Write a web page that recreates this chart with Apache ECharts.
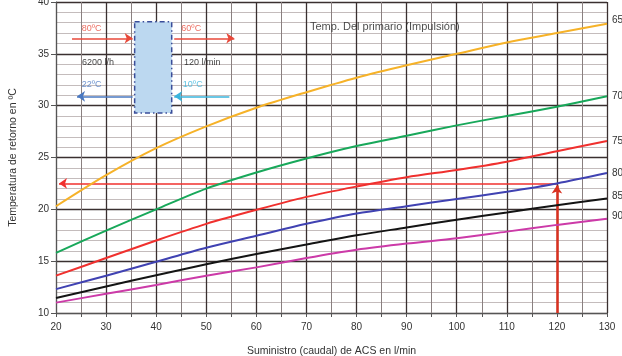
<!DOCTYPE html>
<html><head><meta charset="utf-8">
<script src="https://cdn.jsdelivr.net/npm/echarts@6/dist/echarts.min.js"></script>
<style>html,body{margin:0;padding:0;background:#fff}#c{width:622px;height:356px}</style>
</head><body><div id="c"></div>
<script>
// ---- data ----
const caudal = [20,30,40,50,60,70,80,90,100,110,120,130];
const t65 = [20.3,23.3,25.9,28.0,29.8,31.3,32.7,33.9,35.0,36.1,37.0,37.9];
const t70 = [15.8,17.95,20.0,22.0,23.55,24.9,26.1,27.1,28.1,29.0,29.9,30.9];
const t75 = [13.6,15.3,17.0,18.6,19.95,21.2,22.2,23.1,23.8,24.6,25.6,26.6];
const t80 = [12.3,13.6,14.95,16.3,17.45,18.6,19.6,20.3,21.0,21.7,22.5,23.5];
const t85 = [11.45,12.55,13.65,14.7,15.7,16.6,17.5,18.25,19.0,19.7,20.4,21.05];
const t90 = [11.0,11.85,12.7,13.6,14.4,15.3,16.1,16.7,17.2,17.85,18.5,19.1];
const seriesNames = ['65','70','75','80','85','90'];
const seriesColors = ['#f6b228','#18a85a','#f0302e','#4042b2','#141414','#cc3aa8'];
const seriesLabelOffset = [[0,-4],[0,0],[0,0],[0,0],[0,-2],[0,-2]];
const xTicks = {min:20,max:130,interval:10};
const yTicks = {min:10,max:40,interval:5};
// example reading (caudal 120 l/min -> retorno 22.5 ºC)
const ejemplo = {x:120, y:22.5, xStart:20.6};
// exchanger sketch (data coordinates)
const boxCorners = [[35.7,38.1],[43.1,29.3]];
const arrows = [
  {from:[23.2,36.5],to:[35.3,36.5],color:'#e8493a'},
  {from:[43.6,36.5],to:[55.6,36.5],color:'#e8493a'},
  {from:[35.3,30.9],to:[24.2,30.9],color:'#4a78c0'},
  {from:[54.6,30.9],to:[43.6,30.9],color:'#3ab4dc'}
];
const notes = [
  [27.1,37.45,'80ºC','#e8493a'],
  [47.0,37.45,'60ºC','#e8493a'],
  [28.4,34.2,'6200 l/h','#111'],
  [49.2,34.2,'120 l/min','#111'],
  [27.1,32.0,'22ºC','#4a78c0'],
  [47.3,32.0,'10ºC','#3ab4dc']
];
const titleNote = [70.7,37.55,'Temp. Del primario (Impulsión)'];

const chart = echarts.init(document.getElementById('c'));
const curves = [t65,t70,t75,t80,t85,t90];
const FONT = 'Liberation Sans';
const series = curves.map((vals,i)=>({
  name: seriesNames[i], type:'line', smooth:0.3, symbol:'none',
  data: caudal.map((x,j)=>[x,vals[j]]),
  lineStyle:{color:seriesColors[i],width:2},
  itemStyle:{color:seriesColors[i]},
  z:5,
  endLabel:{show:true,formatter:'{a}',color:'#333',fontSize:10,fontFamily:FONT,distance:5,offset:seriesLabelOffset[i]}
}));
series.push({
  type:'line', data:[], silent:true, z:6,
  markLine:{
    silent:true, animation:false, symbol:['none','arrow'], symbolSize:8,
    label:{show:false},
    data:[
      [{coord:[ejemplo.x,ejemplo.y],lineStyle:{color:'#f0302e',width:1.5,type:'solid'}},{coord:[ejemplo.xStart,ejemplo.y]}],
      [{coord:[ejemplo.x,yTicks.min],lineStyle:{color:'#d9301f',width:2.5,type:'solid'}},{coord:[ejemplo.x,ejemplo.y-0.2]}]
    ].concat(arrows.map(a=>[{coord:a.from,lineStyle:{color:a.color,width:1.5,type:'solid'}},{coord:a.to}]))
  },
  markArea:{
    silent:true,
    itemStyle:{color:'#bcd8f0',borderColor:'#3a4e9a',borderWidth:1.5,borderType:[5,3,1.5,3]},
    data:[[{coord:boxCorners[0]},{coord:boxCorners[1]}]]
  }
});
series.push({
  type:'scatter', symbolSize:0, silent:true, z:7,
  data: notes.map(n=>({value:[n[0],n[1]],name:n[2],label:{color:n[3]}})),
  label:{show:true,position:'inside',formatter:'{b}',fontSize:9,fontFamily:FONT}
});
series.push({
  type:'scatter', symbolSize:0, silent:true, z:7,
  data:[{value:[titleNote[0],titleNote[1]],name:titleNote[2]}],
  label:{show:true,position:'right',distance:0,formatter:'{b}',fontSize:11,color:'#222',fontFamily:FONT}
});

chart.setOption({
  animation:false,
  backgroundColor:'#fff',
  textStyle:{fontFamily:FONT},
  grid:{left:56,right:15,top:2,bottom:43,containLabel:false,outerBoundsMode:'none'},
  xAxis:{
    type:'value', min:xTicks.min, max:xTicks.max, interval:xTicks.interval,
    name:'Suministro (caudal) de ACS en l/min', nameLocation:'middle', nameGap:33,
    nameTextStyle:{color:'#333',fontSize:10.5,fontFamily:FONT},
    axisLine:{show:true,lineStyle:{color:'#555',width:1}},
    axisTick:{show:true,length:4,lineStyle:{color:'#555'}},
    minorTick:{show:true,splitNumber:2,length:4,lineStyle:{color:'#555'}},
    axisLabel:{color:'#333',fontSize:10,margin:9,fontFamily:FONT},
    splitLine:{show:true,lineStyle:{color:'#3a3030',width:1.3}},
    minorSplitLine:{show:true,lineStyle:{color:'#8a8080',width:1}}
  },
  yAxis:{
    type:'value', min:yTicks.min, max:yTicks.max, interval:yTicks.interval,
    name:'Temperatura de retorno en ºC', nameLocation:'middle', nameGap:37,
    nameTextStyle:{color:'#333',fontSize:10.5,fontFamily:FONT},
    axisLine:{show:true,lineStyle:{color:'#555',width:1}},
    axisTick:{show:true,length:5,lineStyle:{color:'#555'}},
    axisLabel:{color:'#333',fontSize:10,margin:7,fontFamily:FONT},
    splitLine:{show:true,lineStyle:{color:'#3a3030',width:1.3}},
    minorTick:{show:false,splitNumber:5},
    minorSplitLine:{show:true,lineStyle:{color:'#c4bcbc',width:1}}
  },
  series:series
});
</script></body></html>
